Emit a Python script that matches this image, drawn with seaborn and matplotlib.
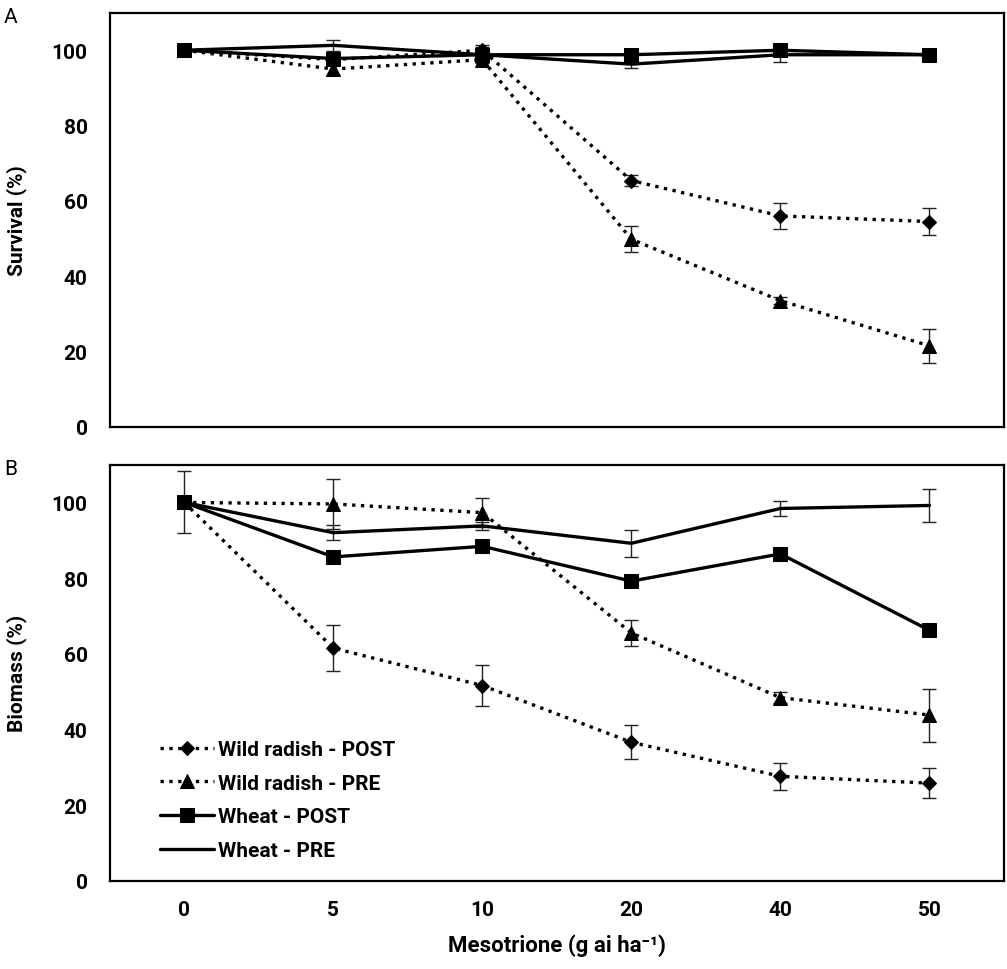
import numpy as np
import pandas as pd
import matplotlib
matplotlib.use("Agg")
import matplotlib.pyplot as plt
import seaborn as sns

sns.set_style("white")
plt.rcParams['font.family'] = ['Roboto', 'DejaVu Sans']
plt.rcParams['text.color'] = 'black'
plt.rcParams['axes.labelcolor'] = 'black'
plt.rcParams['xtick.color'] = 'black'
plt.rcParams['ytick.color'] = 'black'

doses = ["0", "5", "10", "20", "40", "50"]
series = ["Wild radish - POST", "Wild radish - PRE", "Wheat - POST", "Wheat - PRE"]

# panel A: survival (%)
surv_wr_post = [100, 97.5, 100, 65.4, 56.0, 54.5]
surv_wr_pre = [100, 95.0, 97.5, 49.8, 33.5, 21.5]
surv_wh_post = [100, 97.8, 98.8, 98.8, 100, 98.8]
surv_wh_pre = [100, 101.3, 98.8, 96.3, 98.8, 98.8]
surv_wr_post_err = [0, 1.5, 1.5, 1.5, 3.5, 3.5]
surv_wr_pre_err = [0, 1.5, 1.0, 3.5, 1.0, 4.5]
surv_wh_post_err = [0, 1.0, 1.0, 1.0, 1.0, 0.5]
surv_wh_pre_err = [0, 1.5, 2.0, 1.0, 2.0, 0.5]

# panel B: biomass (%)
bio_wr_post = [100, 61.5, 51.6, 36.6, 27.6, 25.8]
bio_wr_pre = [100, 99.6, 97.3, 65.5, 48.4, 43.8]
bio_wh_post = [100, 85.6, 88.4, 79.2, 86.4, 66.2]
bio_wh_pre = [100, 92.0, 93.8, 89.2, 98.4, 99.2]
bio_wr_post_err = [0, 6.0, 5.5, 4.5, 3.5, 4.0]
bio_wr_pre_err = [0, 6.5, 3.8, 3.5, 1.5, 7.0]
bio_wh_post_err = [0, 1.5, 1.0, 1.0, 1.0, 1.0]
bio_wh_pre_err = [8.2, 2.0, 1.0, 3.5, 2.0, 4.3]

styles = {
    "Wild radish - POST": dict(ls=":", marker="D", ms=7.5),
    "Wild radish - PRE": dict(ls=":", marker="^", ms=10),
    "Wheat - POST": dict(ls="-", marker="s", ms=9.5),
    "Wheat - PRE": dict(ls="-", marker=None, ms=0),
}


def draw_panel(ax, vals, errs, ylabel):
    x = np.arange(len(doses))
    for name, v, e in zip(series, vals, errs):
        st = styles[name]
        ax.errorbar(x, v, yerr=e, fmt="none", ecolor="#222222", elinewidth=1,
                    capsize=5, capthick=1, zorder=2)
        sns.lineplot(x=x, y=v, ax=ax, color="black", linestyle=st["ls"],
                     marker=st["marker"], markersize=st["ms"], markeredgecolor="black",
                     linewidth=2.4, label=name, zorder=3)
    ax.set_xlim(-0.5, len(doses) - 0.5)
    ax.set_ylim(0, 110)
    ax.set_yticks([0, 20, 40, 60, 80, 100])
    ax.set_xticks(x)
    ax.set_xticklabels(doses)
    ax.set_ylabel(ylabel, fontsize=15, fontweight="bold", labelpad=18)
    ax.tick_params(length=0, labelsize=15)
    ax.tick_params(axis="y", pad=16)
    for lab in ax.get_yticklabels() + ax.get_xticklabels():
        lab.set_fontweight("bold")
    for sp in ax.spines.values():
        sp.set_color("black")
        sp.set_linewidth(1.6)


fig = plt.figure(figsize=(10.07, 9.70), dpi=100)
ax1 = fig.add_axes([0.109, 0.559, 0.888, 0.427])
ax2 = fig.add_axes([0.109, 0.091, 0.888, 0.429])

draw_panel(ax1, [surv_wr_post, surv_wr_pre, surv_wh_post, surv_wh_pre],
           [surv_wr_post_err, surv_wr_pre_err, surv_wh_post_err, surv_wh_pre_err],
           "Survival (%)")
ax1.set_xticklabels([])
ax1.get_legend().remove()

draw_panel(ax2, [bio_wr_post, bio_wr_pre, bio_wh_post, bio_wh_pre],
           [bio_wr_post_err, bio_wr_pre_err, bio_wh_post_err, bio_wh_pre_err],
           "Biomass (%)")
ax2.set_xlabel("Mesotrione (g ai ha\u207b\u00b9)", fontsize=16, fontweight="bold", labelpad=10)
ax2.tick_params(axis="x", pad=14)
leg = ax2.legend(loc="lower left", bbox_to_anchor=(0.04, 0.015), frameon=False,
                 prop={"size": 15, "weight": "bold"}, handlelength=2.6,
                 handletextpad=0.2, labelspacing=0.7, borderaxespad=0.3)

fig.text(0.004, 0.982, "A", fontsize=15, va="center")
fig.text(0.004, 0.516, "B", fontsize=15, va="center")

fig.savefig("out.png", dpi=100)
